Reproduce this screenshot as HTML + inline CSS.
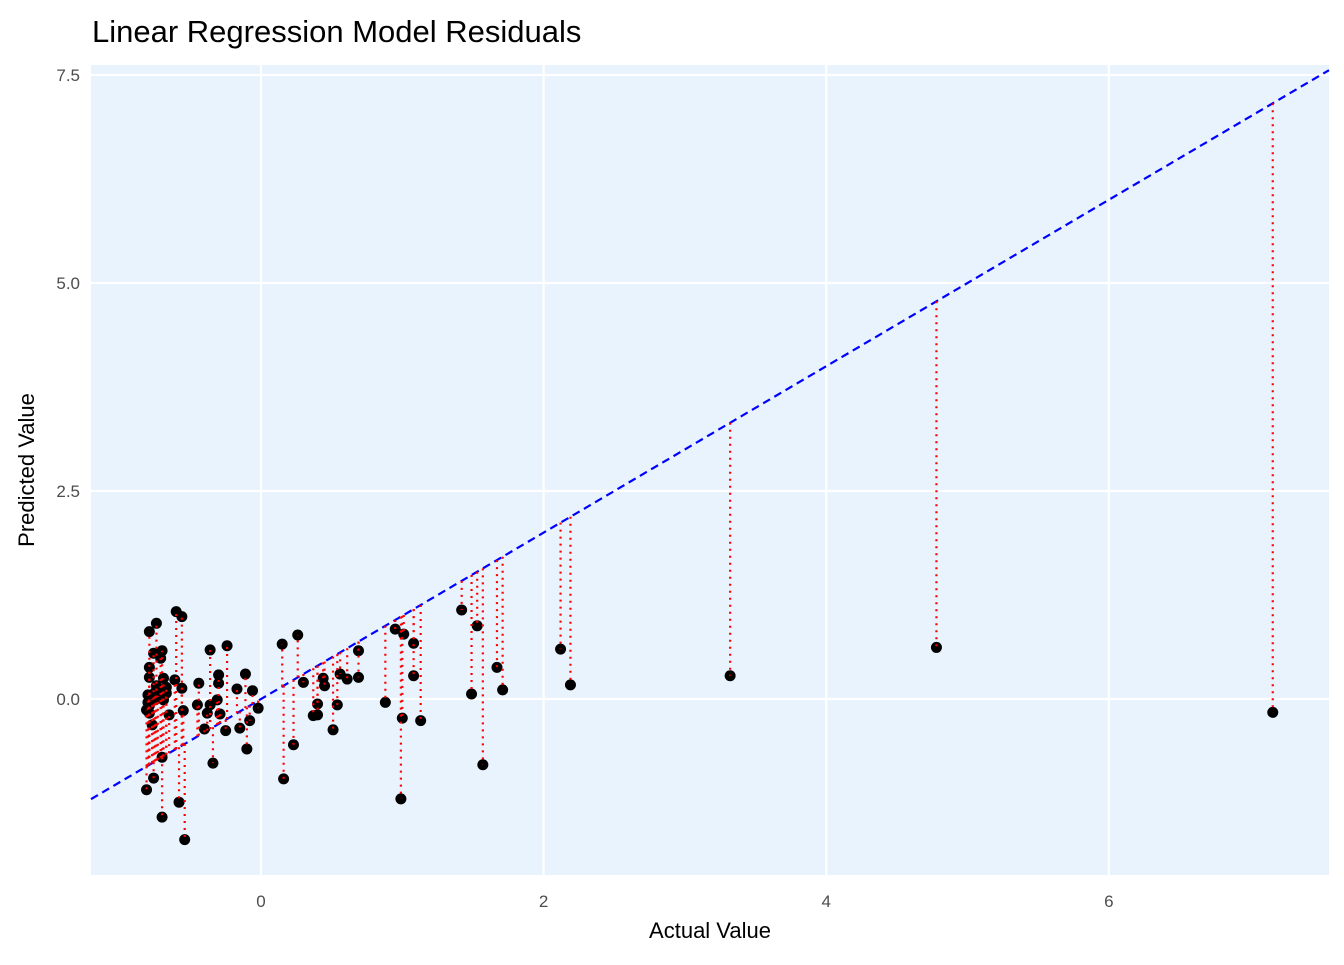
<!DOCTYPE html>
<html><head><meta charset="utf-8"><style>
body{margin:0;background:#fff;font-family:"Liberation Sans",sans-serif}
</style></head><body>
<svg id="c" width="1344" height="960" xmlns="http://www.w3.org/2000/svg"></svg>
<script>
const actual=[-0.60,-0.56,-0.74,-0.79,-0.76,-0.70,-0.71,-0.79,-0.79,-0.69,-0.61,-0.56,-0.44,-0.36,-0.24,-0.30,-0.30,-0.17,-0.11,-0.06,-0.02,-0.08,-0.15,-0.10,-0.25,-0.40,-0.45,-0.36,-0.31,-0.38,-0.29,-0.55,-0.65,-0.80,-0.81,-0.77,-0.70,-0.76,-0.81,-0.58,-0.70,-0.54,-0.34,-0.75,-0.71,-0.79,-0.67,-0.80,-0.79,-0.77,-0.75,-0.73,-0.69,-0.67,-0.74,0.15,0.26,0.16,0.23,0.30,0.44,0.45,0.56,0.61,0.69,0.69,0.40,0.54,0.37,0.40,0.51,0.88,0.95,1.01,1.08,1.08,1.00,1.13,0.99,1.42,1.53,1.49,1.57,1.67,1.71,2.12,2.19,3.32,4.78,7.16];
const predicted=[1.05,0.99,0.91,0.81,0.55,0.58,0.49,0.38,0.26,0.25,0.23,0.13,0.19,0.59,0.64,0.29,0.19,0.12,0.30,0.10,-0.11,-0.26,-0.35,-0.60,-0.38,-0.36,-0.07,-0.07,-0.01,-0.17,-0.18,-0.14,-0.19,0.05,-0.13,-0.31,-0.70,-0.95,-1.09,-1.24,-1.42,-1.69,-0.77,-0.01,0.11,-0.17,0.14,-0.04,-0.08,0.00,0.08,0.04,-0.01,0.07,0.16,0.66,0.77,-0.96,-0.55,0.20,0.25,0.16,0.30,0.24,0.58,0.26,-0.06,-0.07,-0.20,-0.19,-0.37,-0.04,0.84,0.78,0.67,0.28,-0.23,-0.26,-1.20,1.07,0.88,0.06,-0.79,0.38,0.11,0.60,0.17,0.28,0.62,-0.16];
const xTicks=[0,2,4,6];
const xTickLabels=["0","2","4","6"];
const yTicks=[0,2.5,5,7.5];
const yTickLabels=["0.0","2.5","5.0","7.5"];
const NS="http://www.w3.org/2000/svg";
const svg=document.getElementById('c');
const L=91,R=1329,T=65,B=875;
const xMin=-1.203,xMax=7.558,yMin=-2.115,yMax=7.62;
const sx=v=>L+(v-xMin)/(xMax-xMin)*(R-L);
const sy=v=>B-(v-yMin)/(yMax-yMin)*(B-T);
function mk(t,a,p){const e=document.createElementNS(NS,t);for(const k in a)e.setAttribute(k,a[k]);(p||svg).appendChild(e);return e;}
let e=mk('rect',{x:L,y:T,width:R-L,height:B-T,fill:'#e8f3fe'});


xTicks.forEach((t,i)=>{
 let g=mk('line',{x1:sx(t),x2:sx(t),y1:T,y2:B,stroke:'#fff','stroke-width':2.2});
 
 
 let tx=mk('text',{x:sx(t),y:B+32,'text-anchor':'middle','font-size':17,fill:'#4d4d4d'});
 tx.textContent=xTickLabels[i];
 
 
});
yTicks.forEach((t,i)=>{
 let g=mk('line',{x1:L,x2:R,y1:sy(t),y2:sy(t),stroke:'#fff','stroke-width':2.2});
 
 
 let tx=mk('text',{x:L-11,y:sy(t)+6,'text-anchor':'end','font-size':17,fill:'#4d4d4d'});
 tx.textContent=yTickLabels[i];
 
 
});
let ref=mk('line',{x1:sx(xMin),y1:sy(xMin),x2:sx(xMax),y2:sy(xMax),stroke:'#0000ff','stroke-width':2.2,'stroke-dasharray':'8,5'});


actual.forEach((a,i)=>{
 let c=mk('circle',{cx:sx(a),cy:sy(predicted[i]),r:5.5,fill:'#000'});
 
 
});
actual.forEach((a,i)=>{
 let s=mk('line',{x1:sx(a),x2:sx(a),y1:sy(a),y2:sy(predicted[i]),stroke:'#ff0000','stroke-width':2.2,'stroke-dasharray':'2,5'});
 
 
});
let ti=mk('text',{x:92,y:42,'font-size':31,fill:'#000'});ti.textContent='Linear Regression Model Residuals';


let xl=mk('text',{x:(L+R)/2,y:938,'text-anchor':'middle','font-size':22,fill:'#000'});xl.textContent='Actual Value';


let yl=mk('text',{x:0,y:0,'text-anchor':'middle','font-size':22,fill:'#000',transform:`translate(34,${(T+B)/2}) rotate(-90)`});yl.textContent='Predicted Value';


</script>
</body></html>
